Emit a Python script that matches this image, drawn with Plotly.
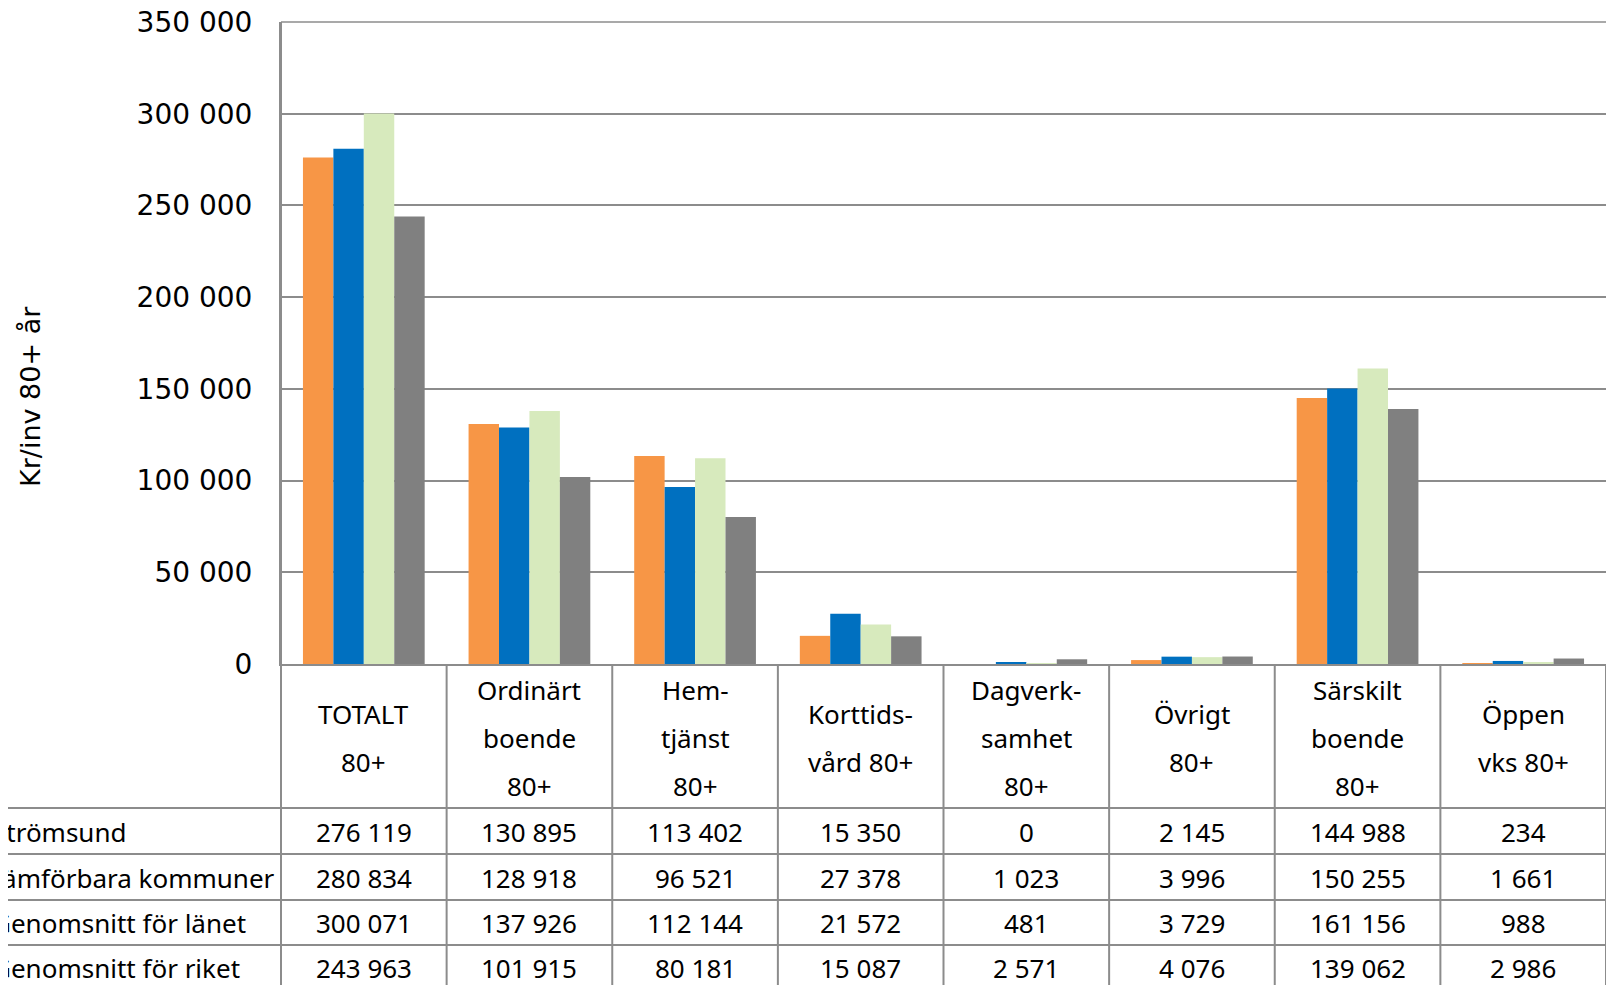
import plotly.graph_objects as go

# categories (header lines as shown in the data table)
categories = ['TOTALT 80+', 'Ordinärt boende 80+', 'Hemtjänst 80+', 'Korttidsvård 80+',
              'Dagverksamhet 80+', 'Övrigt 80+', 'Särskilt boende 80+', 'Öppen vks 80+']
header_lines = [
    ['TOTALT', '80+'],
    ['Ordinärt', 'boende', '80+'],
    ['Hem-', 'tjänst', '80+'],
    ['Korttids-', 'vård 80+'],
    ['Dagverk-', 'samhet', '80+'],
    ['Övrigt', '80+'],
    ['Särskilt', 'boende', '80+'],
    ['Öppen', 'vks 80+'],
]

series_names = ['Strömsund', 'Jämförbara kommuner', 'Genomsnitt för länet', 'Genomsnitt för riket']
stromsund = [276119, 130895, 113402, 15350, 0, 2145, 144988, 234]
jamforbara = [280834, 128918, 96521, 27378, 1023, 3996, 150255, 1661]
lanet = [300071, 137926, 112144, 21572, 481, 3729, 161156, 988]
riket = [243963, 101915, 80181, 15087, 2571, 4076, 139062, 2986]
series_values = [stromsund, jamforbara, lanet, riket]
colors = ['#F79646', '#0070C0', '#D7EABD', '#808080']

y_ticks = [0, 50000, 100000, 150000, 200000, 250000, 300000, 350000]

# page has an 8px body margin, so the figure is laid out 8px smaller
OFF = 8
W, H = 1614, 985
PLOT_LEFT, PLOT_RIGHT, PLOT_TOP, AXIS_Y = 281, 1606, 22, 664  # page pixels
PW = PLOT_RIGHT - PLOT_LEFT
PH = AXIS_Y - PLOT_TOP


def py(p):
    # page pixel row -> paper y
    return (AXIS_Y - p) / PH


def px(p):
    # page pixel column -> paper x
    return (p - PLOT_LEFT) / PW


def fmt(v):
    return f"{v:,}".replace(",", " ")


fig = go.Figure()
for name, vals, col in zip(series_names, series_values, colors):
    fig.add_trace(go.Bar(
        x=categories,
        y=vals,
        name=name,
        marker=dict(color=col, line=dict(width=0)),
    ))

line_col = '#8c8c8c'
table_font = dict(family='Noto Sans', size=26, color='#000000')

shapes = []
annotations = []

# top gridline (plotly skips the gridline at the range edge)
shapes.append(dict(type='line', xref='paper', yref='paper', x0=0, x1=1,
                   y0=1, y1=1, line=dict(color=line_col, width=1.5)))
# left axis line continues down through the table
shapes.append(dict(type='line', xref='paper', yref='paper', x0=0, x1=0,
                   y0=1, y1=py(H), line=dict(color=line_col, width=2)))
# vertical table lines at category boundaries
for i in range(len(categories)):
    shapes.append(dict(type='line', xref='x', yref='paper', x0=i + 0.5, x1=i + 0.5,
                       y0=0, y1=py(H), line=dict(color=line_col, width=2)))
# horizontal table lines
row_lines = [808, 854, 900, 945]
for rl in row_lines:
    shapes.append(dict(type='line', xref='paper', yref='paper', x0=px(0), x1=1,
                       y0=py(rl), y1=py(rl), line=dict(color=line_col, width=2)))

# header row text
head_mid = 738
line_gap = 48
for cat, lines in zip(categories, header_lines):
    n = len(lines)
    for k, txt in enumerate(lines):
        yy = head_mid + (k - (n - 1) / 2) * line_gap
        annotations.append(dict(x=cat, xref='x', y=py(yy), yref='paper', text=txt,
                                showarrow=False, xanchor='center', yanchor='middle',
                                font=table_font))

# data rows
row_centers = [832, 878, 923, 968]
for name, vals, yc in zip(series_names, series_values, row_centers):
    annotations.append(dict(x=px(-10), xref='paper', y=py(yc), yref='paper', text=name,
                            showarrow=False, xanchor='left', yanchor='middle',
                            font=table_font))
    for cat, v in zip(categories, vals):
        annotations.append(dict(x=cat, xref='x', y=py(yc), yref='paper', text=fmt(v),
                                showarrow=False, xanchor='center', yanchor='middle',
                                font=table_font))

# y axis title
annotations.append(dict(x=px(31), xref='paper', y=py(396), yref='paper',
                        text='Kr/inv 80+ år', textangle=-90, showarrow=False,
                        xanchor='center', yanchor='middle',
                        font=dict(family='DejaVu Sans', size=27, color='#000000')))

fig_w, fig_h = W - OFF, H - OFF
fig.update_layout(
    width=fig_w, height=fig_h,
    margin=dict(l=PLOT_LEFT - OFF, r=fig_w - (PLOT_RIGHT - OFF),
                t=PLOT_TOP - OFF, b=fig_h - (AXIS_Y - OFF), autoexpand=False),
    template='none',
    paper_bgcolor='white',
    plot_bgcolor='white',
    barmode='group',
    bargap=0.265,
    bargroupgap=0,
    showlegend=False,
    separators=', ',
    shapes=shapes,
    annotations=annotations,
)
fig.update_xaxes(
    range=[-0.5, len(categories) - 0.5],
    showticklabels=False, showgrid=False, zeroline=False,
    showline=True, linecolor=line_col, linewidth=2, ticks='',
)
fig.update_yaxes(
    range=[0, 350000], tickvals=y_ticks, tickformat=',d',
    showgrid=True, gridcolor=line_col, gridwidth=1.5,
    zeroline=False, showline=True, linecolor=line_col, linewidth=2,
    ticks='', ticklabelstandoff=21, ticklabeloverflow='allow',
    tickfont=dict(family='DejaVu Sans', size=28, color='#000000'),
)

fig.write_html("out.html")
